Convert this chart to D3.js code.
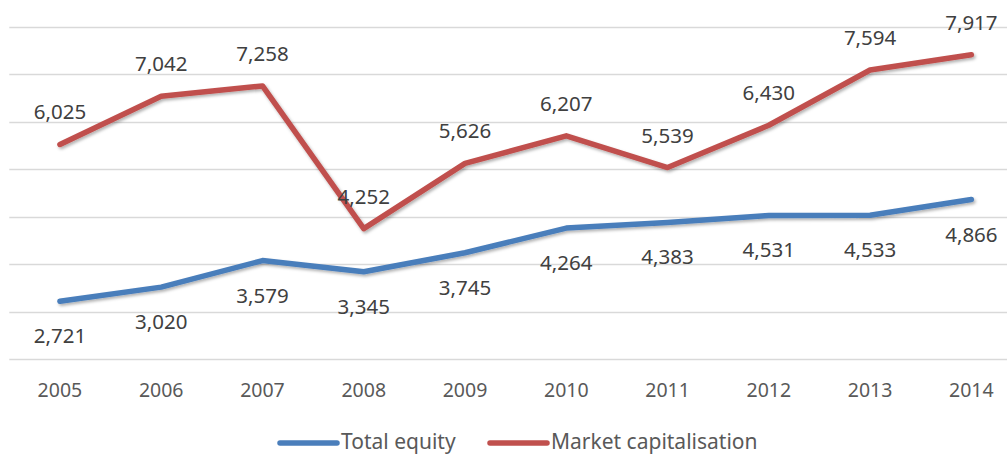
<!DOCTYPE html>
<html>
<head>
<meta charset="utf-8">
<script src="https://cdn.jsdelivr.net/npm/d3@7"></script>
<style>
  body { margin: 0; background: #fff; }
  text { font-family: "Noto Sans", "Open Sans", sans-serif; }
</style>
</head>
<body>
<div id="chart"></div>
<script>
// data
const years = ["2005", "2006", "2007", "2008", "2009", "2010", "2011", "2012", "2013", "2014"];
const totalEquity = [2721, 3020, 3579, 3345, 3745, 4264, 4383, 4531, 4533, 4866];
const marketCap = [6025, 7042, 7258, 4252, 5626, 6207, 5539, 6430, 7594, 7917];
const seriesNames = ["Total equity", "Market capitalisation"];
const gridValues = [1500, 2500, 3500, 4500, 5500, 6500, 7500, 8500];

const colors = ["#4a7ebb", "#c0504d"];

const WIDTH = 1007;
const HEIGHT = 455;

const svg = d3.select("#chart")
  .append("svg")
  .attr("width", WIDTH)
  .attr("height", HEIGHT);

// drop shadow for the lines
const defs = svg.append("defs");
defs.append("filter")
  .attr("id", "shadow")
  .attr("x", "-5%").attr("y", "-20%")
  .attr("width", "110%").attr("height", "140%")
  .append("feDropShadow")
  .attr("dx", 1.5).attr("dy", 2)
  .attr("stdDeviation", 1.5)
  .attr("flood-color", "#000")
  .attr("flood-opacity", 0.3);

// scales
const x = d3.scaleBand()
  .domain(years)
  .range([9.3, 1022]);

const y = d3.scaleLinear()
  .domain([1500, 8500])
  .range([359.3, 27]);

// gridlines
svg.append("g")
  .selectAll("line")
  .data(gridValues)
  .enter()
  .append("line")
  .attr("x1", 9.3)
  .attr("x2", WIDTH)
  .attr("y1", d => Math.round(y(d)) + 0.5)
  .attr("y2", d => Math.round(y(d)) + 0.5)
  .attr("stroke", "#d9d9d9")
  .attr("stroke-width", 1.5);

// x axis labels
const xAxis = svg.append("g")
  .attr("transform", `translate(0, ${y(1500)})`)
  .call(d3.axisBottom(x).tickSize(0).tickPadding(24));
xAxis.select(".domain").remove();
xAxis.selectAll("text")
  .attr("font-size", "19.5px")
  .attr("fill", "#595959")
  .style("font-family", "'Noto Sans', sans-serif");

// lines
const line = d3.line()
  .x((d, i) => x(years[i]) + x.bandwidth() / 2)
  .y(d => y(d));

const allSeries = [totalEquity, marketCap];

svg.append("g")
  .selectAll("path")
  .data(allSeries)
  .enter()
  .append("path")
  .attr("d", line)
  .attr("fill", "none")
  .attr("stroke", (d, i) => colors[i])
  .attr("stroke-width", 5.5)
  .attr("stroke-linecap", "round")
  .attr("stroke-linejoin", "round")
  .attr("filter", "url(#shadow)");

// data labels: equity below, market cap above
const fmt = d3.format(",");
allSeries.forEach((series, s) => {
  svg.append("g")
    .selectAll("text")
    .data(series)
    .enter()
    .append("text")
    .attr("x", (d, i) => x(years[i]) + x.bandwidth() / 2)
    .attr("y", d => s === 0 ? y(d) + 34 : y(d) - 33)
    .attr("text-anchor", "middle")
    .attr("dominant-baseline", "central")
    .attr("font-size", "20.5px")
    .attr("fill", "#404040")
    .text(d => fmt(d));
});

// legend
const legendX = [280, 490];
const legend = svg.append("g")
  .selectAll("g")
  .data(seriesNames)
  .enter()
  .append("g")
  .attr("transform", (d, i) => `translate(${legendX[i]}, 441)`);

legend.append("line")
  .attr("x1", 0)
  .attr("x2", 57)
  .attr("y1", 2)
  .attr("y2", 2)
  .attr("stroke", (d, i) => colors[i])
  .attr("stroke-width", 5.5)
  .attr("stroke-linecap", "round");

legend.append("text")
  .attr("x", 61)
  .attr("dominant-baseline", "central")
  .attr("font-size", "21px")
  .attr("fill", "#595959")
  .text(d => d);
</script>
</body>
</html>
